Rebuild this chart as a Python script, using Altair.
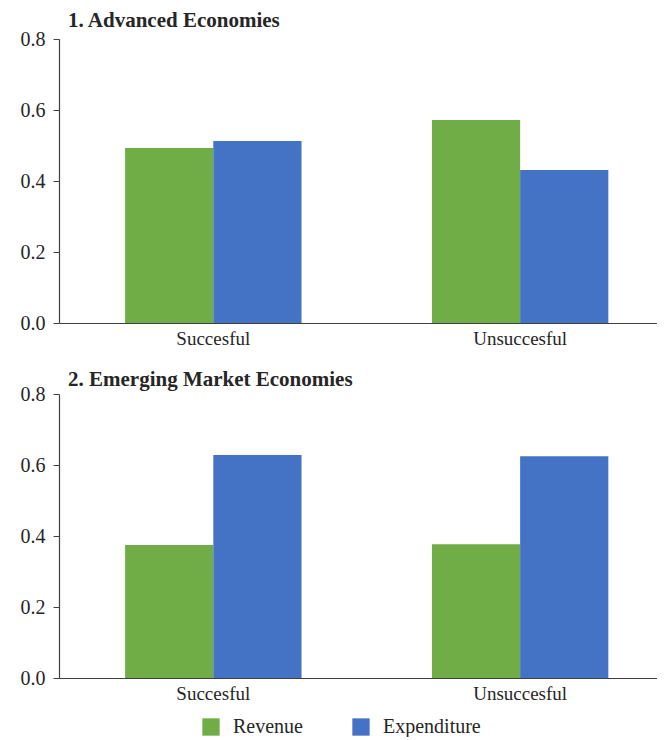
import altair as alt
import pandas as pd

panel_titles = ["1. Advanced Economies", "2. Emerging Market Economies"]
outcomes = ["Succesful", "Unsuccesful"]
series = ["Revenue", "Expenditure"]
adv_revenue = [0.493, 0.572]
adv_expenditure = [0.513, 0.431]
eme_revenue = [0.375, 0.377]
eme_expenditure = [0.628, 0.625]
colors = ["#70AD47", "#4472C4"]
y_ticks = [0.0, 0.2, 0.4, 0.6, 0.8]

FONT = "Liberation Serif"
TEXT = "#262626"


def make_df(rev, exp):
    rows = []
    for i, o in enumerate(outcomes):
        rows.append({"outcome": o, "series": series[0], "value": rev[i]})
        rows.append({"outcome": o, "series": series[1], "value": exp[i]})
    return pd.DataFrame(rows)


def panel(df, title, title_offset):
    return (
        alt.Chart(df)
        .mark_bar()
        .encode(
            x=alt.X(
                "outcome:N",
                sort=outcomes,
                scale=alt.Scale(paddingInner=0.425, paddingOuter=0.187, align=0.576),
                axis=alt.Axis(title=None, labelAngle=0, ticks=False, domain=True,
                              labelPadding=6, labelFontSize=19),
            ),
            xOffset=alt.XOffset("series:N", sort=series, scale=alt.Scale(paddingInner=0, paddingOuter=0)),
            y=alt.Y(
                "value:Q",
                scale=alt.Scale(domain=[0, 0.8], nice=False),
                axis=alt.Axis(title=None, values=y_ticks, format=".1f", grid=False,
                              tickSize=6, labelPadding=8, labelFontSize=20),
            ),
            color=alt.Color(
                "series:N",
                sort=series,
                scale=alt.Scale(domain=series, range=colors),
                legend=alt.Legend(
                    title=None, orient="none", direction="horizontal",
                    legendX=142, legendY=678, symbolType="square", symbolSize=300,
                    symbolStrokeWidth=0, symbolOpacity=1, labelFontSize=20,
                    columnPadding=48, symbolOffset=0, labelOffset=12,
                ),
            ),
        )
        .properties(
            width=598,
            height=284,
            title=alt.TitleParams(title, anchor="start", frame="group", dx=9, offset=title_offset,
                                  fontSize=21, fontWeight="bold", color=TEXT, font=FONT),
        )
    )


chart = (
    alt.vconcat(
        panel(make_df(adv_revenue, adv_expenditure), panel_titles[0], -2),
        panel(make_df(eme_revenue, eme_expenditure), panel_titles[1], -6),
        spacing=21,
    )
    .properties(padding={"left": 12, "right": 0, "top": 2, "bottom": 0}, background="white")
    .configure_view(stroke=None)
    .configure_axis(
        labelFont=FONT, labelColor=TEXT,
        domainColor="#404040", tickColor="#404040", domainWidth=1.2,
    )
    .configure_legend(labelFont=FONT, labelColor=TEXT)
)

chart.save("out.html", embed_options={"renderer": "svg", "actions": False})
